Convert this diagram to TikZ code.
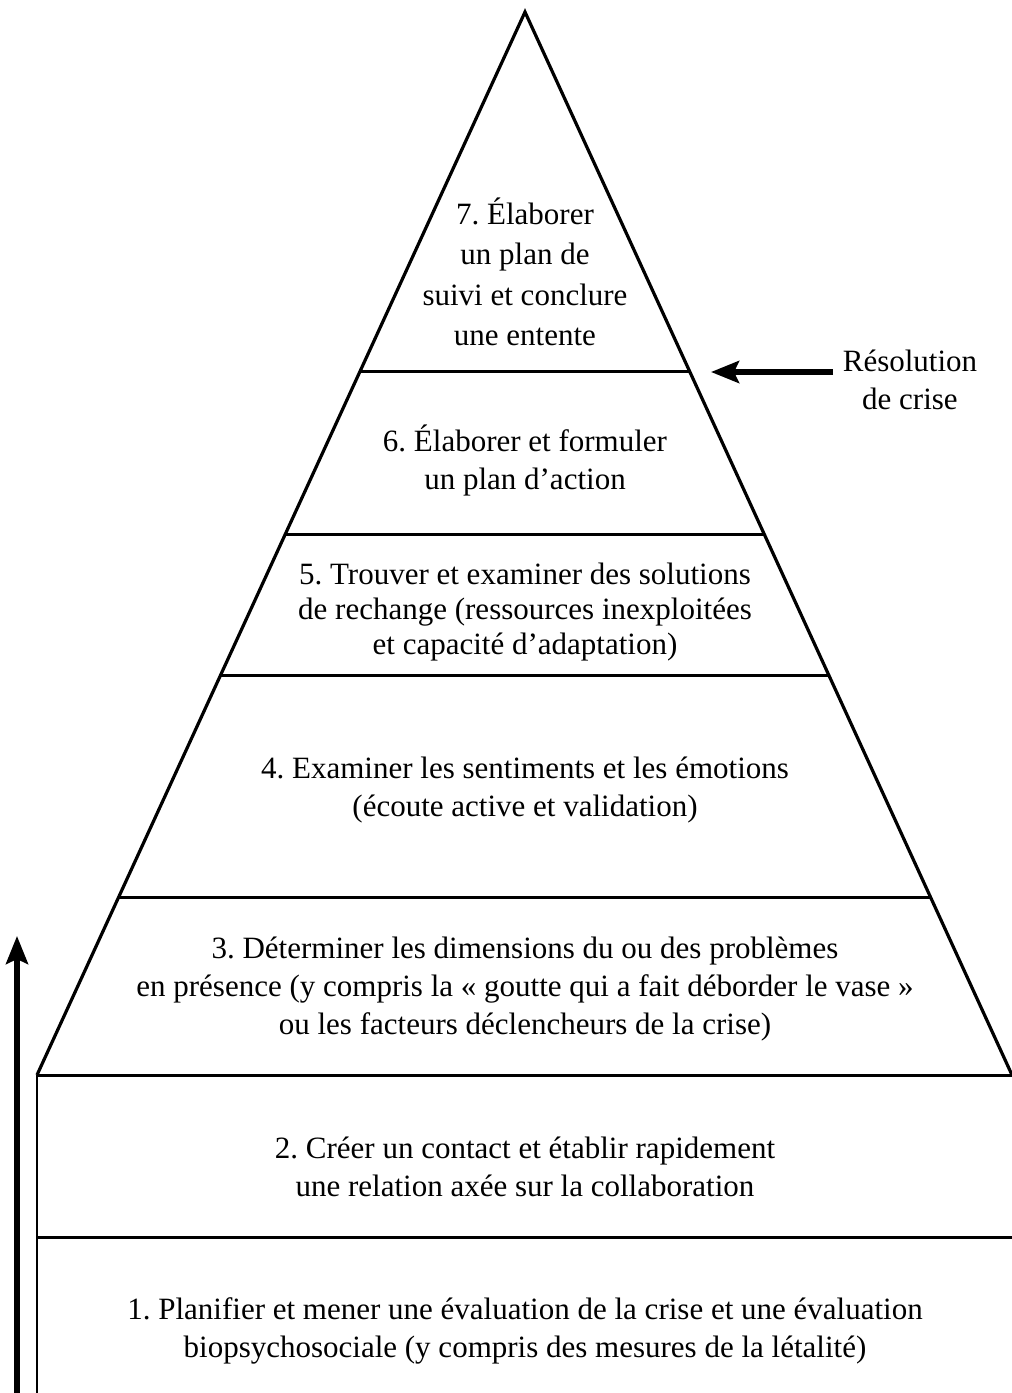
\documentclass[tikz,border=0pt]{standalone}
\usepackage{fontspec}
\setmainfont{Liberation Serif}
\usetikzlibrary{arrows.meta,calc}
\frenchspacing
\begin{document}
\begin{tikzpicture}[x=1pt,y=-1pt,
  edge/.style={line width=3.2pt,line join=miter},
  sep/.style={line width=3pt},
  txt/.style={align=center,inner sep=0pt,font=\fontsize{31}{38}\selectfont},
  bigarrow/.style={line width=5.5pt,-{Stealth[length=28pt,width=22pt,inset=5pt]}}]
\useasboundingbox (0,0) rectangle (1012,1393);
% triangle corners
\coordinate (A) at (525,12);
\coordinate (BL) at (37,1075);
\coordinate (BR) at (1012,1075);
% level separators on the edges
\coordinate (l7) at ($(A)!0.33866!(BL)$);
\coordinate (r7) at ($(A)!0.33866!(BR)$);
\coordinate (l6) at ($(A)!0.49106!(BL)$);
\coordinate (r6) at ($(A)!0.49106!(BR)$);
\coordinate (l5) at ($(A)!0.62371!(BL)$);
\coordinate (r5) at ($(A)!0.62371!(BR)$);
\coordinate (l4) at ($(A)!0.83255!(BL)$);
\coordinate (r4) at ($(A)!0.83255!(BR)$);
% base rectangle
\coordinate (RL) at (37,1237);
\coordinate (RR) at (1030,1237);
\coordinate (BB) at (37,1400);
\coordinate (BRx) at (1030,1075);
\draw[edge] (BL) -- (A) -- (BR);
\draw[sep] (l7) -- (r7);
\draw[sep] (l6) -- (r6);
\draw[sep] (l5) -- (r5);
\draw[sep] (l4) -- (r4);
\draw[sep] (BL) -- (BRx);
\draw[sep] (RL) -- (RR);
\draw[line width=2.4pt] (BL) -- (BB);
% texts
\node[txt,font=\fontsize{31}{40.5}\selectfont] (t7) at (525,272) {7. Élaborer\\un plan de\\suivi et conclure\\une entente};
\node[txt] (t6) at (525,460) {6. Élaborer et formuler\\un plan d’action};
\node[txt,font=\fontsize{31}{35}\selectfont] (t5) at (525,612) {5. Trouver et examiner des solutions\\de rechange (ressources inexploitées\\et capacité d’adaptation)};
\node[txt] (t4) at (525,790) {4. Examiner les sentiments et les émotions\\(écoute active et validation)};
\node[txt] (t3) at (525,989) {3. Déterminer les dimensions du ou des problèmes\\en présence (y compris la « goutte qui a fait déborder le vase »\\ou les facteurs déclencheurs de la crise)};
\node[txt] (t2) at (525,1167) {2. Créer un contact et établir rapidement\\une relation axée sur la collaboration};
\node[txt] (t1) at (525,1331) {1. Planifier et mener une évaluation de la crise et une évaluation\\biopsychosociale (y compris des mesures de la létalité)};
\node[txt] (res) at (910,380) {Résolution\\de crise};
% arrows
\coordinate (rs) at (833,372);
\coordinate (re) at (711,372);
\draw[bigarrow] (rs) -- (re);
\coordinate (ls) at (17,1400);
\coordinate (le) at (17,936);
\draw[bigarrow] (ls) -- (le);
\end{tikzpicture}
\end{document}
